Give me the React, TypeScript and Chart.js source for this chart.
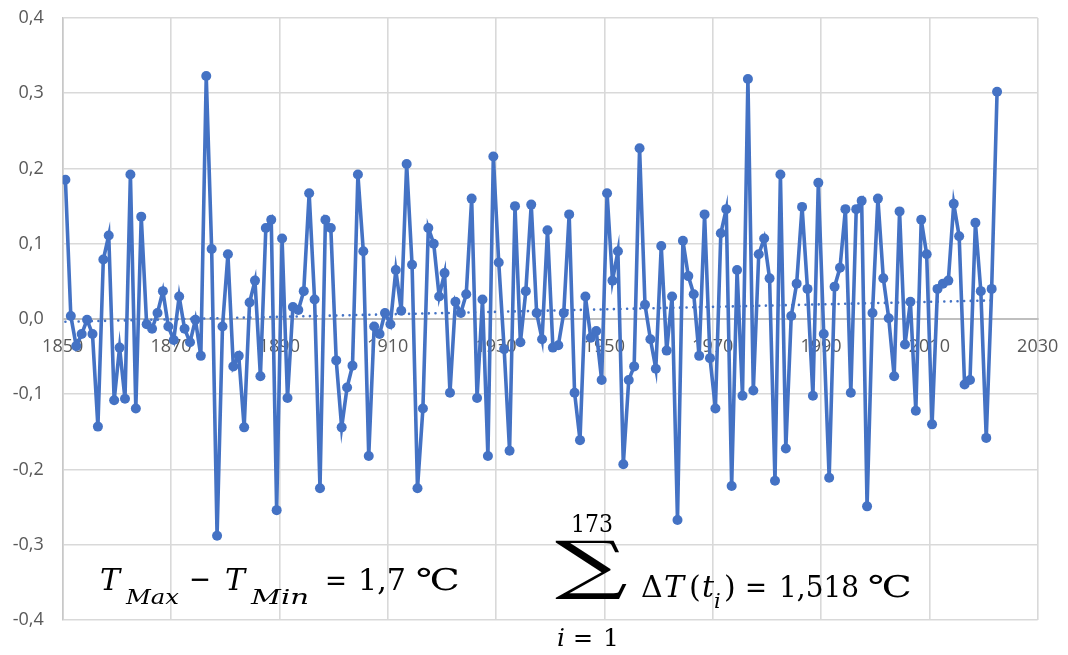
import React, { useEffect, useRef } from "react";
import { Chart, registerables } from "chart.js";

Chart.register(...registerables);

// First year of the series (one value per year, 173 values)
const startYear = 1850;

// Yearly temperature change ΔT(t_i) in °C, 1850..2022
const anomalies1850s = [0.185, 0.004, -0.036, -0.020, -0.001, -0.020, -0.143, 0.079, 0.111, -0.108];
const anomalies1860s = [-0.038, -0.106, 0.192, -0.119, 0.136, -0.007, -0.013, 0.008, 0.037, -0.010];
const anomalies1870s = [-0.028, 0.030, -0.013, -0.031, -0.001, -0.049, 0.323, 0.093, -0.288, -0.010];
const anomalies1880s = [0.086, -0.063, -0.049, -0.144, 0.022, 0.051, -0.076, 0.121, 0.132, -0.254];
const anomalies1890s = [0.107, -0.105, 0.016, 0.012, 0.037, 0.167, 0.026, -0.225, 0.132, 0.121];
const anomalies1900s = [-0.055, -0.144, -0.091, -0.062, 0.192, 0.090, -0.182, -0.010, -0.020, 0.008];
const anomalies1910s = [-0.007, 0.065, 0.011, 0.206, 0.072, -0.225, -0.119, 0.121, 0.100, 0.030];
const anomalies1920s = [0.061, -0.098, 0.023, 0.008, 0.033, 0.160, -0.105, 0.026, -0.182, 0.216];
const anomalies1930s = [0.075, -0.040, -0.175, 0.150, -0.031, 0.037, 0.152, 0.008, -0.027, 0.118];
const anomalies1940s = [-0.038, -0.035, 0.008, 0.139, -0.098, -0.161, 0.030, -0.025, -0.016, -0.081];
const anomalies1950s = [0.167, 0.051, 0.090, -0.193, -0.081, -0.063, 0.227, 0.019, -0.027, -0.066];
const anomalies1960s = [0.097, -0.042, 0.030, -0.267, 0.104, 0.057, 0.033, -0.049, 0.139, -0.052];
const anomalies1970s = [-0.119, 0.114, 0.146, -0.222, 0.065, -0.102, 0.319, -0.095, 0.086, 0.107];
const anomalies1980s = [0.054, -0.215, 0.192, -0.172, 0.004, 0.047, 0.149, 0.040, -0.102, 0.181];
const anomalies1990s = [-0.020, -0.211, 0.043, 0.068, 0.146, -0.098, 0.146, 0.157, -0.249, 0.008];
const anomalies2000s = [0.160, 0.054, 0.001, -0.076, 0.143, -0.034, 0.023, -0.122, 0.132, 0.086];
const anomalies2010s = [-0.140, 0.040, 0.047, 0.051, 0.153, 0.110, -0.087, -0.081, 0.128, 0.037];
const anomalies2020s = [-0.158, 0.040, 0.302];

const anomalies = [
  ...anomalies1850s, ...anomalies1860s, ...anomalies1870s, ...anomalies1880s,
  ...anomalies1890s, ...anomalies1900s, ...anomalies1910s, ...anomalies1920s,
  ...anomalies1930s, ...anomalies1940s, ...anomalies1950s, ...anomalies1960s,
  ...anomalies1970s, ...anomalies1980s, ...anomalies1990s, ...anomalies2000s,
  ...anomalies2010s, ...anomalies2020s,
];

// Axis ticks
const xTicks = [1850, 1870, 1890, 1910, 1930, 1950, 1970, 1990, 2010, 2030];
const yTicks = [-0.4, -0.3, -0.2, -0.1, 0, 0.1, 0.2, 0.3, 0.4];

const BLUE = "#4472C4";
const GRID = "#d9d9d9";
const LABEL = "#595959";
const MATH = "'DejaVu Serif', 'Liberation Serif', serif";

type Tok = {
  t: string;
  x: number;
  y: number;
  size: number;
  italic?: boolean;
  w?: number;
  h?: number;
  top?: number;
};

// Formula annotations drawn over the plot (text pieces with layout)
const formulaTokens: Tok[] = [
  // T_Max − T_Min = 1,7 ℃
  { t: "T", x: 100, y: 590, size: 30, italic: true },
  { t: "Max", x: 126, y: 604, size: 21, italic: true, w: 53 },
  { t: "−", x: 189, y: 589, size: 30, w: 22 },
  { t: "T", x: 225, y: 590, size: 30, italic: true },
  { t: "Min", x: 251, y: 604, size: 21, italic: true, w: 58 },
  { t: "=", x: 325, y: 590, size: 30, w: 22 },
  { t: "1,7", x: 358, y: 590, size: 30, w: 48 },
  { t: "℃", x: 416, y: 590, size: 30, w: 44 },
  // Σ_{i=1}^{173} ΔT(t_i) = 1,518 ℃
  { t: "173", x: 571, y: 532, size: 25, w: 42 },
  { t: "∑", x: 555, y: 600, size: 60, w: 73, h: 60, top: 540 },
  { t: "i", x: 557, y: 646, size: 25, italic: true },
  { t: "=", x: 573, y: 646, size: 25, w: 20 },
  { t: "1", x: 603, y: 646, size: 25 },
  { t: "Δ", x: 641, y: 597, size: 30 },
  { t: "T", x: 664, y: 597, size: 30, italic: true },
  { t: "(", x: 689, y: 597, size: 30 },
  { t: "t", x: 702, y: 597, size: 30, italic: true },
  { t: "i", x: 714, y: 608, size: 21, italic: true },
  { t: ")", x: 724, y: 597, size: 30 },
  { t: "=", x: 745, y: 597, size: 30, w: 22 },
  { t: "1,518", x: 779, y: 597, size: 30, w: 80 },
  { t: "℃", x: 868, y: 597, size: 30, w: 44 },
];

const formulaPlugin = {
  id: "formulas",
  afterDraw(chart: any) {
    const ctx = chart.ctx as CanvasRenderingContext2D;
    ctx.save();
    ctx.fillStyle = "#000";
    ctx.textAlign = "left";
    ctx.textBaseline = "alphabetic";
    formulaTokens.forEach((tk) => {
      ctx.font = `${tk.italic ? "italic " : ""}${tk.size}px ${MATH}`;
      const m = ctx.measureText(tk.t);
      ctx.save();
      if (tk.h && tk.top !== undefined) {
        // stretch glyph to fit its box
        const gw = m.actualBoundingBoxLeft + m.actualBoundingBoxRight;
        const gh = m.actualBoundingBoxAscent + m.actualBoundingBoxDescent;
        ctx.translate(tk.x, tk.top);
        ctx.scale((tk.w as number) / gw, tk.h / gh);
        ctx.fillText(tk.t, m.actualBoundingBoxLeft, m.actualBoundingBoxAscent);
      } else if (tk.w) {
        ctx.translate(tk.x, tk.y);
        ctx.scale(tk.w / m.width, 1);
        ctx.fillText(tk.t, 0, 0);
      } else {
        ctx.fillText(tk.t, tk.x, tk.y);
      }
      ctx.restore();
    });
    ctx.restore();
  },
};

export default function App() {
  const canvasRef = useRef<HTMLCanvasElement | null>(null);

  useEffect(() => {
    const canvas = canvasRef.current;
    if (!canvas) return;

    // points plotted at mid-year
    const points = anomalies.map((v, i) => ({ x: startYear + i + 0.5, y: v }));

    // linear least-squares trend line (Excel linear trendline)
    const n = points.length;
    const mx = points.reduce((s, p) => s + p.x, 0) / n;
    const my = points.reduce((s, p) => s + p.y, 0) / n;
    let sxy = 0;
    let sxx = 0;
    points.forEach((p) => {
      sxy += (p.x - mx) * (p.y - my);
      sxx += (p.x - mx) * (p.x - mx);
    });
    const slope = sxy / sxx;
    const intercept = my - slope * mx;
    const x0 = points[0].x;
    const x1 = points[n - 1].x;
    const trend = [
      { x: x0, y: intercept + slope * x0 },
      { x: x1, y: intercept + slope * x1 },
    ];

    const fmt = (v: number) => {
      const r = Math.round(v * 10) / 10;
      return (Object.is(r, -0) ? 0 : r).toFixed(1).replace(".", ",");
    };

    const chart = new Chart(canvas, {
      type: "scatter",
      data: {
        datasets: [
          {
            type: "line",
            data: points,
            borderColor: BLUE,
            backgroundColor: BLUE,
            borderWidth: 3.6,
            pointRadius: 5,
            pointHoverRadius: 5,
            pointBorderWidth: 0,
            pointBackgroundColor: BLUE,
            tension: 0,
            showLine: true,
            order: 1,
          } as any,
          {
            type: "line",
            data: trend,
            borderColor: BLUE,
            borderWidth: 2.6,
            borderDash: [0.01, 6.6],
            borderCapStyle: "round",
            pointRadius: 0,
            tension: 0,
            showLine: true,
            order: 0,
          } as any,
        ],
      },
      options: {
        animation: false,
        responsive: false,
        maintainAspectRatio: false,
        layout: { padding: { left: 0, right: 30.3, top: 18, bottom: 35 } },
        plugins: { legend: { display: false }, tooltip: { enabled: false } },
        scales: {
          x: {
            type: "linear",
            position: { y: 0 } as any,
            min: 1850,
            max: 2030,
            afterBuildTicks: (s: any) => {
              s.ticks = xTicks.map((v) => ({ value: v }));
            },
            afterFit: (s: any) => {
              s.height = 0;
            },
            ticks: {
              callback: (v: any) => String(v),
              font: { family: "'Open Sans'", size: 18 },
              color: LABEL,
              padding: 9,
              maxRotation: 0,
              autoSkip: false,
            },
            grid: {
              color: GRID,
              lineWidth: 1.6,
              drawTicks: true,
              tickLength: 8,
              tickColor: "rgba(0,0,0,0)",
            },
            border: { color: "#bfbfbf", width: 2 },
          },
          y: {
            type: "linear",
            min: -0.4,
            max: 0.4,
            afterBuildTicks: (s: any) => {
              s.ticks = yTicks.map((v) => ({ value: v }));
            },
            afterFit: (s: any) => {
              s.width = 62.7;
            },
            ticks: {
              callback: (v: any) => fmt(Number(v)),
              font: { family: "'Open Sans'", size: 18 },
              color: LABEL,
              padding: 0,
            },
            grid: {
              color: GRID,
              lineWidth: 1.6,
              drawTicks: true,
              tickLength: 19,
              tickColor: "rgba(0,0,0,0)",
            },
            border: { color: "#c8c8c8", width: 1.6 },
          },
        },
      } as any,
      plugins: [formulaPlugin],
    });

    return () => chart.destroy();
  }, []);

  return (
    <div
      style={{
        position: "fixed",
        left: 0,
        top: 0,
        width: 1068,
        height: 655,
        background: "#ffffff",
        overflow: "hidden",
      }}
    >
      <canvas ref={canvasRef} width={1068} height={655} style={{ display: "block" }} />
    </div>
  );
}
